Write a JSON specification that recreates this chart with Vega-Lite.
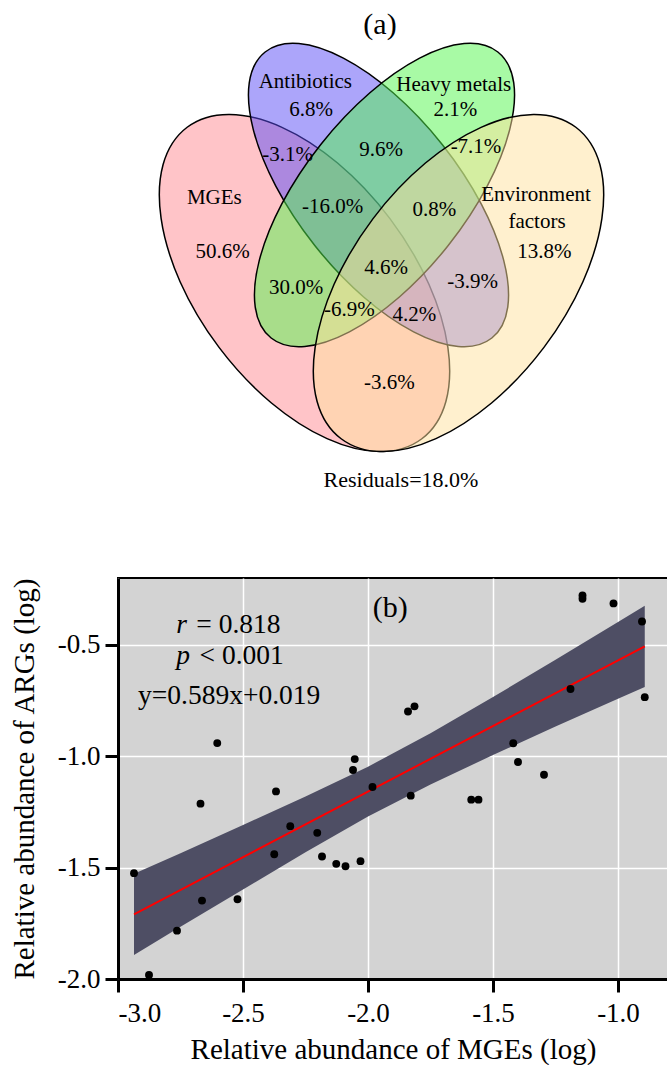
{
  "$schema": "https://vega.github.io/schema/vega-lite/v6.json",
  "padding": {"left": 9, "top": 0, "right": 0, "bottom": 0},
  "bounds": "flush",
  "spacing": 78,
  "config": {"font": "Liberation Serif", "view": {"stroke": null}},
  "datasets": {
    "ellipses": [
      {"set": "MGEs", "u": 37.3, "v": 56.6},
      {"set": "Antibiotics", "u": 52.1, "v": 39.0},
      {"set": "Heavy metals", "u": 53.3, "v": 39.0},
      {"set": "Environment factors", "u": 68.1, "v": 56.6}
    ],
    "vennLabels": [
      {"label": "(a)", "u": 52.4, "v": 6.7},
      {"label": "Antibiotics", "u": 37.46, "v": 16.46},
      {"label": "6.8%", "u": 38.6, "v": 22.0},
      {"label": "Heavy metals", "u": 67.14, "v": 17.0},
      {"label": "2.1%", "u": 67.46, "v": 22.0},
      {"label": "-3.1%", "u": 33.94, "v": 31.0},
      {"label": "9.6%", "u": 52.6, "v": 30.0},
      {"label": "-7.1%", "u": 71.6, "v": 29.34},
      {"label": "MGEs", "u": 19.26, "v": 39.66},
      {"label": "-16.0%", "u": 42.94, "v": 41.34},
      {"label": "0.8%", "u": 63.26, "v": 42.0},
      {"label": "Environment", "u": 83.6, "v": 39.0},
      {"label": "factors", "u": 83.8, "v": 44.34},
      {"label": "13.8%", "u": 85.26, "v": 50.34},
      {"label": "50.6%", "u": 20.94, "v": 50.34},
      {"label": "30.0%", "u": 35.6, "v": 57.66},
      {"label": "4.6%", "u": 53.6, "v": 53.66},
      {"label": "-3.9%", "u": 70.94, "v": 56.34},
      {"label": "-6.9%", "u": 46.26, "v": 62.0},
      {"label": "4.2%", "u": 59.26, "v": 63.0},
      {"label": "-3.6%", "u": 54.26, "v": 76.66},
      {"label": "Residuals=18.0%", "u": 56.6, "v": 96.0}
    ],
    "points": [
      {"x": -2.936, "y": -1.525}, {"x": -2.876, "y": -1.982}, {"x": -2.764, "y": -1.783},
      {"x": -2.664, "y": -1.648}, {"x": -2.670, "y": -1.213}, {"x": -2.603, "y": -0.941},
      {"x": -2.522, "y": -1.642}, {"x": -2.368, "y": -1.158}, {"x": -2.375, "y": -1.440},
      {"x": -2.311, "y": -1.314}, {"x": -2.203, "y": -1.344}, {"x": -2.184, "y": -1.450},
      {"x": -2.127, "y": -1.483}, {"x": -2.090, "y": -1.494}, {"x": -2.030, "y": -1.471},
      {"x": -2.060, "y": -1.062}, {"x": -2.053, "y": -1.013}, {"x": -1.982, "y": -1.138},
      {"x": -1.829, "y": -1.177}, {"x": -1.840, "y": -0.799}, {"x": -1.814, "y": -0.776},
      {"x": -1.587, "y": -1.195}, {"x": -1.558, "y": -1.195}, {"x": -1.419, "y": -0.942},
      {"x": -1.400, "y": -1.026}, {"x": -1.296, "y": -1.083}, {"x": -1.190, "y": -0.698},
      {"x": -1.142, "y": -0.278}, {"x": -1.142, "y": -0.293}, {"x": -1.018, "y": -0.314},
      {"x": -0.904, "y": -0.395}, {"x": -0.893, "y": -0.735}
    ],
    "band": [
      {"x": -2.936, "y": -1.892, "yu": -1.528},
      {"x": -2.75, "y": -1.766, "yu": -1.436},
      {"x": -2.5, "y": -1.5985, "yu": -1.3085},
      {"x": -2.25, "y": -1.431, "yu": -1.181},
      {"x": -2.0, "y": -1.271, "yu": -1.047},
      {"x": -1.75, "y": -1.127, "yu": -0.897},
      {"x": -1.5, "y": -0.9945, "yu": -0.7345},
      {"x": -1.25, "y": -0.867, "yu": -0.567},
      {"x": -1.0, "y": -0.742, "yu": -0.398},
      {"x": -0.893, "y": -0.689, "yu": -0.325}
    ],
    "fit": [
      {"x": -2.936, "y": -1.710},
      {"x": -0.893, "y": -0.507}
    ],
    "statsItalic": [
      {"t": "r", "x": -2.767, "y": -0.446},
      {"t": "p", "x": -2.767, "y": -0.588}
    ],
    "statsPlain": [
      {"t": "= 0.818", "x": -2.687, "y": -0.446},
      {"t": "< 0.001", "x": -2.674, "y": -0.588},
      {"t": "y=0.589x+0.019", "x": -2.92, "y": -0.7635}
    ],
    "panelB": [
      {"t": "(b)", "x": -1.911, "y": -0.3755}
    ]
  },
  "vconcat": [
    {
      "width": 550,
      "height": 500,
      "encoding": {
        "x": {"field": "u", "type": "quantitative", "scale": {"domain": [0, 110], "nice": false, "zero": false}, "axis": null},
        "y": {"field": "v", "type": "quantitative", "scale": {"domain": [0, 100], "reverse": true, "nice": false, "zero": false}, "axis": null}
      },
      "layer": [
        {
          "data": {"name": "ellipses"},
          "transform": [{"filter": "datum.set === 'MGEs'"}],
          "mark": {"type": "point", "shape": "M 1 0 C 1 0.3031 0.5523 0.5487 0 0.5487 C -0.5523 0.5487 -1 0.3031 -1 0 C -1 -0.3031 -0.5523 -0.5487 0 -0.5487 C 0.5523 -0.5487 1 -0.3031 1 0 Z", "size": 152100, "angle": 53, "filled": true, "fill": "#ff8991", "fillOpacity": 0.5, "stroke": "black", "strokeWidth": 1.5, "strokeOpacity": 1, "opacity": 1}
        },
        {
          "data": {"name": "ellipses"},
          "transform": [{"filter": "datum.set === 'Antibiotics'"}],
          "mark": {"type": "point", "shape": "M 1 0 C 1 0.246 0.5523 0.4455 0 0.4455 C -0.5523 0.4455 -1 0.246 -1 0 C -1 -0.246 -0.5523 -0.4455 0 -0.4455 C 0.5523 -0.4455 1 -0.246 1 0 Z", "size": 133225, "angle": 51.6, "filled": true, "fill": "#5a4bf5", "fillOpacity": 0.5, "stroke": "black", "strokeWidth": 1.5, "strokeOpacity": 1, "opacity": 1}
        },
        {
          "data": {"name": "ellipses"},
          "transform": [{"filter": "datum.set === 'Heavy metals'"}],
          "mark": {"type": "point", "shape": "M 1 0 C 1 0.246 0.5523 0.4455 0 0.4455 C -0.5523 0.4455 -1 0.246 -1 0 C -1 -0.246 -0.5523 -0.4455 0 -0.4455 C 0.5523 -0.4455 1 -0.246 1 0 Z", "size": 133225, "angle": 128.4, "filled": true, "fill": "#51f54b", "fillOpacity": 0.5, "stroke": "black", "strokeWidth": 1.5, "strokeOpacity": 1, "opacity": 1}
        },
        {
          "data": {"name": "ellipses"},
          "transform": [{"filter": "datum.set === 'Environment factors'"}],
          "mark": {"type": "point", "shape": "M 1 0 C 1 0.3031 0.5523 0.5487 0 0.5487 C -0.5523 0.5487 -1 0.3031 -1 0 C -1 -0.3031 -0.5523 -0.5487 0 -0.5487 C 0.5523 -0.5487 1 -0.3031 1 0 Z", "size": 152100, "angle": 127, "filled": true, "fill": "#ffe19d", "fillOpacity": 0.5, "stroke": "black", "strokeWidth": 1.5, "strokeOpacity": 1, "opacity": 1}
        },
        {
          "data": {"name": "vennLabels"},
          "transform": [{"filter": "datum.label !== '(a)' && datum.label !== 'Residuals=18.0%'"}],
          "mark": {"type": "text", "font": "Liberation Serif", "fontSize": 21, "color": "black", "align": "center", "baseline": "middle"},
          "encoding": {"text": {"field": "label"}}
        },
        {
          "data": {"name": "vennLabels"},
          "transform": [{"filter": "datum.label === '(a)'"}],
          "mark": {"type": "text", "font": "Liberation Serif", "fontSize": 30, "color": "black", "align": "center", "baseline": "alphabetic"},
          "encoding": {"text": {"field": "label"}}
        },
        {
          "data": {"name": "vennLabels"},
          "transform": [{"filter": "datum.label === 'Residuals=18.0%'"}],
          "mark": {"type": "text", "font": "Liberation Serif", "fontSize": 22, "color": "black", "align": "center", "baseline": "middle"},
          "encoding": {"text": {"field": "label"}}
        }
      ]
    },
    {
      "width": 550,
      "height": 401,
      "view": {"fill": "#d3d3d3", "stroke": "black", "strokeWidth": 2},
      "encoding": {
        "x": {
          "field": "x", "type": "quantitative",
          "scale": {"domain": [-3.0, -0.8], "nice": false, "zero": false},
          "axis": {
            "title": "Relative abundance of MGEs (log)",
            "values": [-3.0, -2.5, -2.0, -1.5, -1.0],
            "labelExpr": "replace(format(datum.value, '.1f'), '\u2212', '-')",
            "grid": true, "gridColor": "white", "gridWidth": 1.5,
            "domainColor": "black", "domainWidth": 3,
            "tickColor": "black", "tickWidth": 3, "tickSize": 13,
            "labelFont": "Liberation Serif", "labelFontSize": 27, "labelColor": "black", "labelPadding": 8,
            "titleFont": "Liberation Serif", "titleFontSize": 29, "titleFontWeight": "normal", "titleColor": "black", "titlePadding": 9
          }
        },
        "y": {
          "field": "y", "type": "quantitative",
          "scale": {"domain": [-2.0, -0.2], "nice": false, "zero": false},
          "axis": {
            "title": "Relative abundance of ARGs (log)",
            "values": [-2.0, -1.5, -1.0, -0.5],
            "labelExpr": "replace(format(datum.value, '.1f'), '\u2212', '-')",
            "grid": true, "gridColor": "white", "gridWidth": 1.5,
            "domainColor": "black", "domainWidth": 3,
            "tickColor": "black", "tickWidth": 3, "tickSize": 13,
            "labelFont": "Liberation Serif", "labelFontSize": 27, "labelColor": "black", "labelPadding": 5,
            "minExtent": 62, "maxExtent": 62,
            "titleFont": "Liberation Serif", "titleFontSize": 29, "titleFontWeight": "normal", "titleColor": "black", "titlePadding": 17
          }
        }
      },
      "layer": [
        {
          "data": {"name": "band"},
          "mark": {"type": "area", "color": "#4e4e64", "opacity": 1},
          "encoding": {"y2": {"field": "yu"}}
        },
        {
          "data": {"name": "fit"},
          "mark": {"type": "line", "color": "#ff0000", "strokeWidth": 2},
          "encoding": {}
        },
        {
          "data": {"name": "points"},
          "mark": {"type": "circle", "color": "black", "size": 62, "opacity": 1}
        },
        {
          "data": {"name": "statsItalic"},
          "mark": {"type": "text", "font": "Liberation Serif", "fontStyle": "italic", "fontSize": 27.5, "color": "black", "align": "left", "baseline": "alphabetic"},
          "encoding": {"text": {"field": "t"}}
        },
        {
          "data": {"name": "statsPlain"},
          "mark": {"type": "text", "font": "Liberation Serif", "fontSize": 27.5, "color": "black", "align": "left", "baseline": "alphabetic"},
          "encoding": {"text": {"field": "t"}}
        },
        {
          "data": {"name": "panelB"},
          "mark": {"type": "text", "font": "Liberation Serif", "fontSize": 30, "color": "black", "align": "center", "baseline": "alphabetic"},
          "encoding": {"text": {"field": "t"}}
        }
      ]
    }
  ]
}
